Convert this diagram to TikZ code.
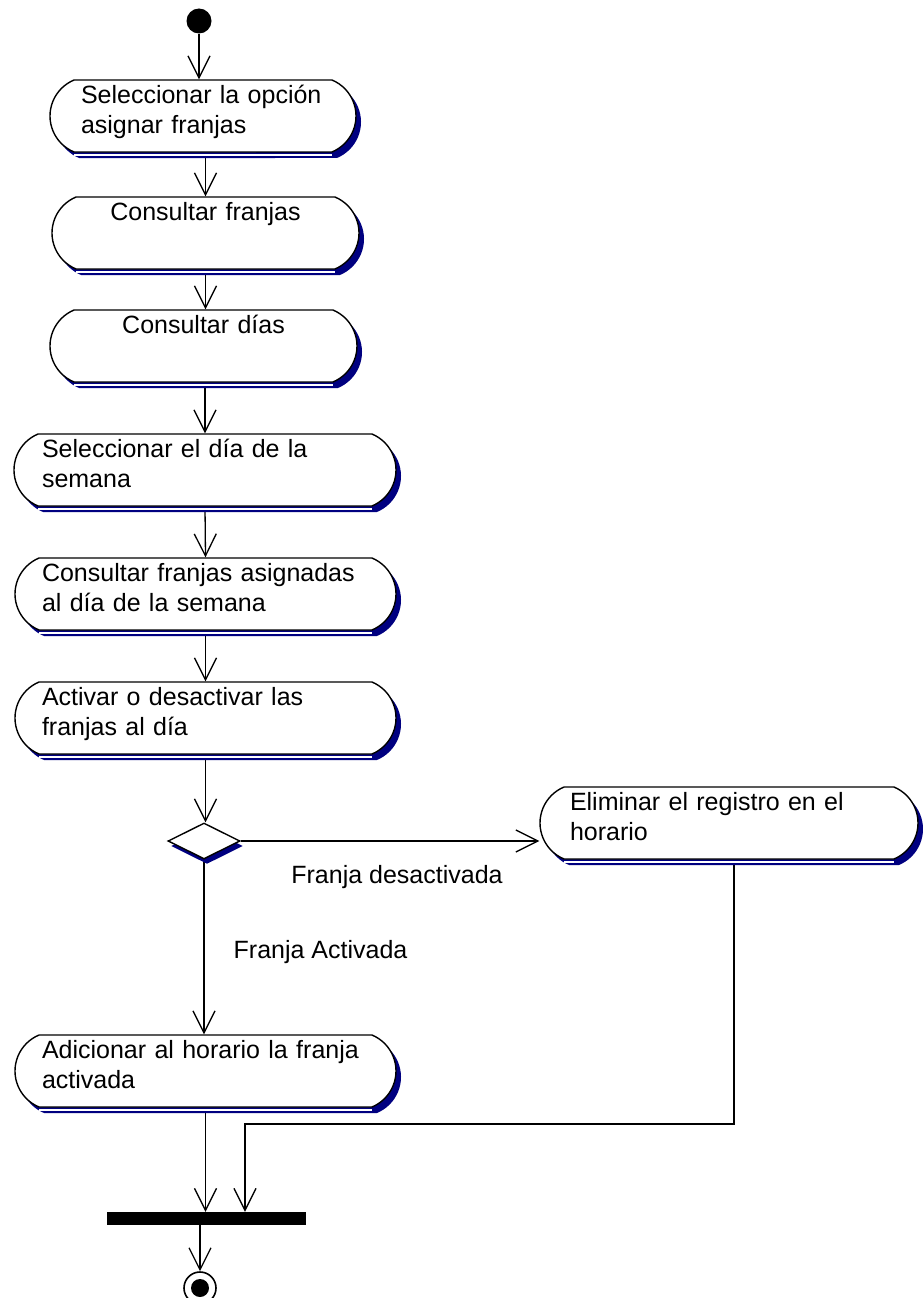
\documentclass[tikz,border=0pt]{standalone}
\usepackage{fontspec}
\setmainfont{Liberation Sans}
\usetikzlibrary{arrows.meta, shapes.misc, shapes.geometric, shadows, backgrounds}

\definecolor{shadowblue}{RGB}{0,0,128}

\begin{document}
\begin{tikzpicture}[
    x=1pt, y=-1pt,
    activity/.style={
        rounded rectangle, rounded rectangle arc length=135, draw=black, line width=1.4pt,
        fill=white, minimum height=72pt, inner ysep=0pt, inner xsep=2pt,
        text height=23pt, text depth=49pt, align=left,
        font=\fontsize{25}{30}\selectfont,
        drop shadow={shadow xshift=5pt, shadow yshift=-6pt, fill=shadowblue, opacity=1}
    },
    decision/.style={
        diamond, aspect=2, draw=black, line width=1.4pt, fill=white,
        minimum width=72pt, minimum height=36pt, inner sep=0pt,
        drop shadow={shadow xshift=3pt, shadow yshift=-5pt, fill=shadowblue, opacity=1}
    },
    startnode/.style={circle, fill=black, minimum size=25pt, inner sep=0pt},
    endnode/.style={
        circle, draw=black, line width=1.6pt, fill=white, minimum size=32pt, inner sep=0pt,
        path picture={\fill[black] (path picture bounding box.center) circle (9pt);}
    },
    bar/.style={rectangle, fill=black, minimum width=199pt, minimum height=13pt, inner sep=0pt},
    arrow/.style={-{Straight Barb[length=22pt, width=22pt]}, line width=1.3pt, black},
    lbl/.style={font=\fontsize{25}{30}\selectfont, inner sep=0pt}
]

\useasboundingbox (0,0) rectangle (923,1298);

\node[startnode] (start) at (199,21) {};

\node[activity, minimum width=310, text width=244] (a1) at (203,116) {Seleccionar la opción\\asignar franjas};

\node[activity, minimum width=311, text width=250, align=center] (a2) at (205.5,233) {Consultar franjas};

\node[activity, minimum width=311, text width=250, align=center] (a3) at (203.5,346) {Consultar días};

\node[activity, minimum width=386, text width=326] (a4) at (205,470) {Seleccionar el día de la\\semana};

\node[activity, minimum width=385, text width=327] (a5) at (205.5,594) {Consultar franjas asignadas\\al día de la semana};

\node[activity, minimum width=385, text width=327] (a6) at (205.5,718) {Activar o desactivar las\\franjas al día};

\node[decision] (d) at (204,841) {};

\node[activity, minimum width=382, text width=318] (elim) at (729,823) {Eliminar el registro en el\\horario};

\node[activity, minimum width=385, text width=327] (adic) at (205.5,1071) {Adicionar al horario la franja\\activada};

\node[bar] (join) at (206.5,1218.5) {};

\node[endnode] (end) at (200,1288) {};

\coordinate (turn) at (245,1124);

% white line along the bottom edge
\foreach \n in {a1,a2,a3,a4,a5,a6,elim,adic}
    \draw[white, line width=1.1pt] ([yshift=-2.3pt]\n.south west) -- ([yshift=-2.3pt]\n.south east);

\node[lbl, anchor=base] (offlbl) at (397,883) {Franja desactivada};
\node[lbl, anchor=base] (onlbl) at (320.5,958) {Franja Activada};

\begin{scope}[on background layer]
\draw[arrow] (start) -- (start |- a1.north);
\draw[arrow] (a1.south -| a2.north) -- (a2.north);
\draw[arrow] (a2.south) -- (a2.south |- a3.north);
\draw[arrow] (a3.south -| a4.north) -- (a4.north);
\draw[arrow] (a4.south) -- (a5.north);
\draw[arrow] (a5.south) -- (a6.north);
\draw[arrow] (a6.south) -- (a6.south |- d.north);
\draw[arrow] (d.east) -- (d.east -| elim.west);
\draw[arrow] (d.south) -- (d.south |- adic.north);
\draw[arrow] (adic.south) -- (adic.south |- join.north);
\draw[arrow] ([xshift=5pt]elim.south) |- (turn) -- (turn |- join.north);
\draw[arrow] (join.south -| end) -- (end);
\end{scope}

\end{tikzpicture}
\end{document}
